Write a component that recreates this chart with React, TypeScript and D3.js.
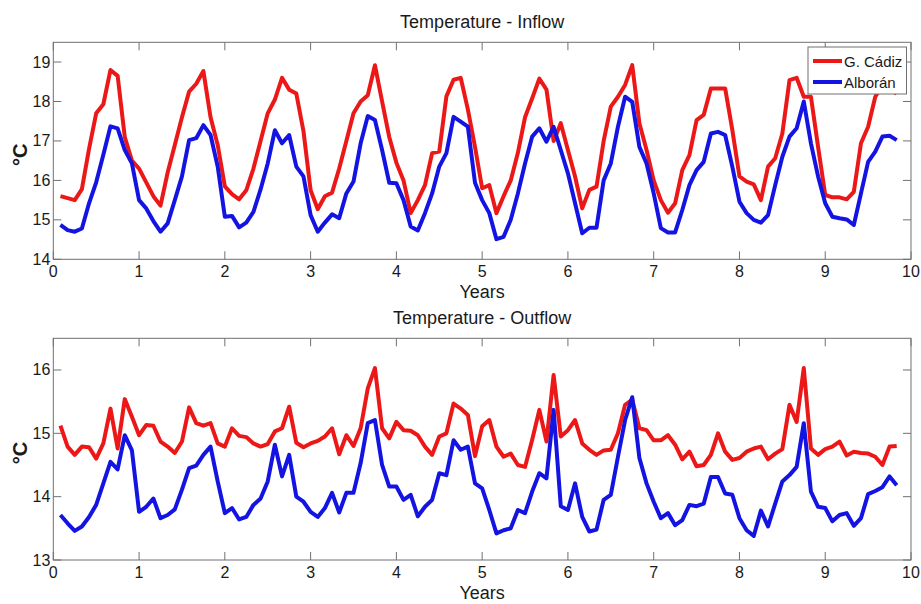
import React from "react";
import * as d3 from "d3";

// monthly samples (years)
const years: number[] = Array.from({ length: 118 }, (_, i) => (i + 1) / 12);

const inflowCadiz = [
  15.6, 15.55, 15.5, 15.78, 16.8, 17.7, 17.93, 18.8, 18.65, 17.1, 16.5, 16.3,
  15.95, 15.6, 15.36, 16.2, 16.9, 17.6, 18.25, 18.45, 18.77, 17.6, 16.9, 15.85,
  15.65, 15.52, 15.75, 16.3, 17.0, 17.7, 18.05, 18.6, 18.3, 18.2, 17.25, 15.75,
  15.27, 15.6, 15.69, 16.3, 17.0, 17.7, 18.0, 18.16, 18.92, 18.0, 17.1, 16.45,
  16.0, 15.17, 15.5, 15.88, 16.69, 16.73, 18.13, 18.55, 18.6, 17.8, 16.85, 15.8,
  15.88, 15.17, 15.6, 16.0, 16.7, 17.6, 18.08, 18.58, 18.3, 17.0, 17.45, 16.77,
  16.1, 15.29, 15.76, 15.84, 17.0, 17.87, 18.12, 18.42, 18.92, 17.45, 16.77, 16.0,
  15.5, 15.18, 15.42, 16.26, 16.64, 17.53, 17.66, 18.33, 18.33, 18.33, 17.28, 16.1,
  15.97, 15.9, 15.5, 16.35, 16.56, 17.19, 18.54, 18.6, 18.12, 18.12, 16.85, 15.63,
  15.57, 15.57, 15.52, 15.71, 16.94, 17.36, 18.12, 18.4, 18.3, 18.2,
];

const inflowAlboran = [
  14.87, 14.74, 14.7, 14.78, 15.42, 15.95, 16.65, 17.37, 17.32, 16.77, 16.43, 15.5,
  15.29, 14.97, 14.7, 14.91, 15.5, 16.1, 17.02, 17.07, 17.4, 17.15, 16.35, 15.08,
  15.1, 14.81, 14.93, 15.2, 15.77, 16.43, 17.27, 16.94, 17.15, 16.35, 16.1, 15.12,
  14.7, 14.93, 15.14, 15.04, 15.67, 15.97, 16.94, 17.63, 17.53, 16.77, 15.94, 15.93,
  15.5, 14.83, 14.73, 15.17, 15.67, 16.35, 16.69, 17.61, 17.49, 17.36, 15.94, 15.5,
  15.17, 14.51, 14.57, 15.0, 15.67, 16.43, 17.11, 17.32, 16.98, 17.36, 16.77, 16.18,
  15.42, 14.66, 14.8, 14.8, 16.0, 16.43, 17.36, 18.12, 17.99, 16.85, 16.43, 15.67,
  14.79, 14.68, 14.68, 15.25, 15.88, 16.26, 16.47, 17.19, 17.23, 17.15, 16.35, 15.46,
  15.17, 15.0, 14.93, 15.12, 15.88, 16.6, 17.11, 17.32, 18.0, 16.94, 16.1, 15.42,
  15.08, 15.04, 15.01, 14.87, 15.67, 16.47, 16.73, 17.11, 17.13, 17.02,
];

const outflowCadiz = [
  15.12, 14.79, 14.66, 14.79, 14.78, 14.6, 14.84, 15.39, 14.76, 15.54, 15.26, 14.97,
  15.13, 15.12, 14.87, 14.79, 14.69, 14.87, 15.41, 15.16, 15.12, 15.16, 14.84, 14.79,
  15.08, 14.96, 14.94, 14.84, 14.79, 14.83, 15.03, 15.08, 15.42, 14.85, 14.78, 14.84,
  14.88, 14.95, 15.08, 14.67, 14.97, 14.8, 15.08, 15.71, 16.03, 15.08, 14.92, 15.18,
  15.05, 15.04, 14.97, 14.79, 14.66, 14.95, 15.0, 15.47, 15.39, 15.29, 14.64, 15.11,
  15.21, 14.79, 14.63, 14.68, 14.5, 14.47, 14.9, 15.37, 14.87, 15.92, 14.95, 15.05,
  15.21, 14.84, 14.74, 14.66, 14.73, 14.74, 15.0, 15.45, 15.53, 15.08, 15.05, 14.89,
  14.89, 14.97, 14.82, 14.59, 14.71, 14.48, 14.5, 14.66, 15.0, 14.71, 14.58, 14.61,
  14.71, 14.76, 14.79, 14.59, 14.68, 14.75, 15.45, 15.18, 16.03, 14.76, 14.66, 14.75,
  14.79, 14.87, 14.65, 14.71, 14.69, 14.68, 14.63, 14.5, 14.79, 14.8,
];

const outflowAlboran = [
  13.71, 13.58, 13.46, 13.53, 13.68, 13.87, 14.21, 14.55, 14.43, 14.97, 14.73, 13.76,
  13.84, 13.97, 13.66, 13.71, 13.8, 14.11, 14.45, 14.49, 14.66, 14.79, 14.24, 13.74,
  13.82, 13.64, 13.68, 13.87, 13.97, 14.24, 14.82, 14.32, 14.66, 14.0, 13.92, 13.76,
  13.68, 13.82, 14.06, 13.75, 14.06, 14.06, 14.53, 15.16, 15.21, 14.5, 14.16, 14.16,
  13.95, 14.03, 13.69, 13.84, 13.95, 14.37, 14.34, 14.89, 14.74, 14.79, 14.21, 14.13,
  13.79, 13.42, 13.47, 13.5, 13.79, 13.74, 14.08, 14.37, 14.29, 15.37, 13.85, 13.79,
  14.21, 13.68, 13.45, 13.48, 13.95, 14.03, 14.63, 15.21, 15.57, 14.61, 14.21, 13.92,
  13.66, 13.74, 13.55, 13.63, 13.87, 13.85, 13.89, 14.31, 14.31, 14.05, 14.03, 13.66,
  13.47, 13.38, 13.78, 13.53, 13.89, 14.24, 14.34, 14.47, 15.16, 14.08, 13.84, 13.82,
  13.61, 13.71, 13.74, 13.54, 13.66, 14.04, 14.09, 14.15, 14.32, 14.18,
];

const xTicks = [0, 1, 2, 3, 4, 5, 6, 7, 8, 9, 10];
const inflowYTicks = [14, 15, 16, 17, 18, 19];
const outflowYTicks = [13, 14, 15, 16];
const legendLabels = ["G. Cádiz", "Alborán"];
const panelTitles = ["Temperature - Inflow", "Temperature - Outflow"];
const xLabel = "Years";
const yLabel = "°C";

const W = 921;
const H = 604;
const RED = "#ec1818";
const BLUE = "#1414e2";
const AXIS = "#707070";
const TEXT = "#1a1a1a";
const FONT = "'Liberation Sans', Arial, Helvetica, sans-serif";
const LEFT = 53.3;
const RIGHT = 911;
const TICK = 8;

type PanelProps = {
  top: number;
  bottom: number;
  yDomain: [number, number];
  yTicks: number[];
  red: number[];
  blue: number[];
  title: string;
  legend: boolean;
};

function Panel({ top, bottom, yDomain, yTicks, red, blue, title, legend }: PanelProps) {
  const x = d3.scaleLinear().domain([0, 10]).range([LEFT, RIGHT]);
  const y = d3.scaleLinear().domain(yDomain).range([bottom, top]);
  const line = d3
    .line<number>()
    .x((_, i) => x(years[i]))
    .y((d) => y(d));
  const midY = (top + bottom) / 2;
  return (
    <g>
      <rect x={LEFT} y={top} width={RIGHT - LEFT} height={bottom - top} fill="#fff" />
      {xTicks.map((t) => (
        <g key={"xt" + t}>
          <line x1={x(t)} x2={x(t)} y1={bottom} y2={bottom - TICK} stroke={AXIS} strokeWidth={1} />
          <line x1={x(t)} x2={x(t)} y1={top} y2={top + TICK} stroke={AXIS} strokeWidth={1} />
          <text x={x(t)} y={bottom + 18} textAnchor="middle" fontSize={16} fill={TEXT} fontFamily={FONT}>
            {t}
          </text>
        </g>
      ))}
      {yTicks.map((t) => (
        <g key={"yt" + t}>
          <line x1={LEFT} x2={LEFT + TICK} y1={y(t)} y2={y(t)} stroke={AXIS} strokeWidth={1} />
          <line x1={RIGHT} x2={RIGHT - TICK} y1={y(t)} y2={y(t)} stroke={AXIS} strokeWidth={1} />
          <text x={LEFT - 3} y={y(t) + 5.5} textAnchor="end" fontSize={16} fill={TEXT} fontFamily={FONT}>
            {t}
          </text>
        </g>
      ))}
      <path d={line(red) || ""} fill="none" stroke={RED} strokeWidth={4} strokeLinejoin="round" />
      <path d={line(blue) || ""} fill="none" stroke={BLUE} strokeWidth={4} strokeLinejoin="round" />
      <rect x={LEFT} y={top} width={RIGHT - LEFT} height={bottom - top} fill="none" stroke={AXIS} strokeWidth={1} />
      <text x={(LEFT + RIGHT) / 2} y={top - 14} textAnchor="middle" fontSize={18} fill={TEXT} fontFamily={FONT}>
        {title}
      </text>
      <text x={(LEFT + RIGHT) / 2} y={bottom + 39} textAnchor="middle" fontSize={18} fill={TEXT} fontFamily={FONT}>
        {xLabel}
      </text>
      <text
        transform={`translate(27, ${midY + 4}) rotate(-90)`}
        textAnchor="middle"
        fontSize={20}
        fontWeight="bold"
        fill={TEXT}
        fontFamily={FONT}
      >
        {yLabel}
      </text>
      {legend && (
        <g>
          <rect x={808} y={47} width={98.5} height={47} fill="#fff" stroke={AXIS} strokeWidth={1} />
          {legendLabels.map((lab, i) => (
            <g key={lab}>
              <line
                x1={813}
                x2={842}
                y1={61 + i * 21}
                y2={61 + i * 21}
                stroke={i === 0 ? RED : BLUE}
                strokeWidth={4}
              />
              <text x={844} y={61 + i * 21 + 5.5} fontSize={15} fill={TEXT} fontFamily={FONT}>
                {lab}
              </text>
            </g>
          ))}
        </g>
      )}
    </g>
  );
}

export default function App() {
  return (
    <svg
      width={W}
      height={H}
      viewBox={`0 0 ${W} ${H}`}
      style={{ position: "absolute", left: 0, top: 0, background: "#fff" }}
    >
      <rect width={W} height={H} fill="#fff" />
      <Panel
        top={42.3}
        bottom={259.3}
        yDomain={[14, 19.5]}
        yTicks={inflowYTicks}
        red={inflowCadiz}
        blue={inflowAlboran}
        title={panelTitles[0]}
        legend={true}
      />
      <Panel
        top={338.3}
        bottom={560}
        yDomain={[13, 16.5]}
        yTicks={outflowYTicks}
        red={outflowCadiz}
        blue={outflowAlboran}
        title={panelTitles[1]}
        legend={false}
      />
    </svg>
  );
}
